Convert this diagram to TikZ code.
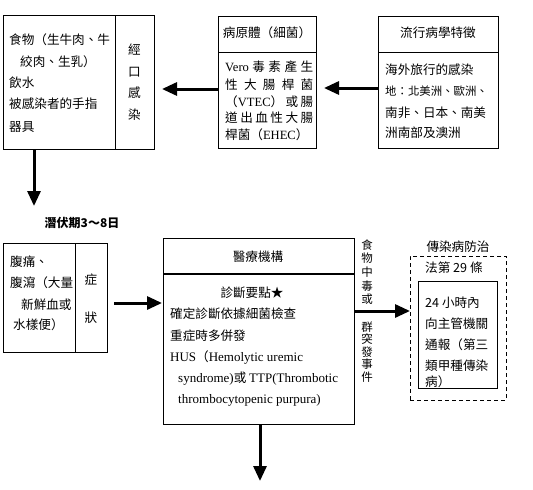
\documentclass[tikz,border=0pt]{standalone}
\usepackage{fontspec}
\setmainfont{Noto Sans CJK TC}
\newfontfamily\lat{Liberation Serif}
\usetikzlibrary{arrows.meta}
\begin{document}
\begin{tikzpicture}[x=1pt,y=-1pt,
 box/.style={draw,line width=0.8pt,inner sep=0pt,outer sep=0pt,anchor=north west},
 txt/.style={inner sep=0pt,anchor=west,font=\fontsize{12.6}{15}\selectfont},
 ctxt/.style={inner sep=0pt,font=\fontsize{12.6}{15}\selectfont},
 vtxt/.style={inner sep=0pt,align=center,font=\fontsize{11.5}{13}\selectfont},
 arr/.style={line width=3pt,-{Triangle[length=15pt,width=13pt]}},
]
\useasboundingbox (0,0) rectangle (533,490);

% Box 1
\node[box,minimum width=151pt,minimum height=134pt] (b1) at (3,15) {};
\draw[line width=0.8pt] ([xshift=112pt]b1.north west) -- ([xshift=112pt]b1.south west);
\node[txt] (b1a) at (9,40) {食物（生牛肉、牛};
\node[txt] (b1b) at (20,62) {絞肉、生乳）};
\node[txt] (b1c) at (9,83) {飲水};
\node[txt] (b1d) at (9,104) {被感染者的手指};
\node[txt] (b1e) at (9,127) {器具};
\node[ctxt] (b1v1) at (134.5,50) {經};
\node[ctxt] (b1v2) at (134.5,72) {口};
\node[ctxt] (b1v3) at (134.5,93) {感};
\node[ctxt] (b1v4) at (134.5,115) {染};

% Box 2
\node[box,minimum width=98pt,minimum height=132pt] (b2) at (218,16) {};
\draw[line width=0.8pt] ([yshift=-36pt]b2.north west) -- ([yshift=-36pt]b2.north east);
\node[ctxt] (b2h) at (267,33) {病原體（細菌）};
\node[txt] (b2a) at (225,67) {\makebox[88pt][s]{{\lat Vero}\hfill 毒\hfill 素\hfill 產\hfill 生}};
\node[txt] (b2b) at (225,85) {\makebox[88pt][s]{性\hfill 大\hfill 腸\hfill 桿\hfill 菌}};
\node[txt] (b2c) at (225,102) {\makebox[88pt][s]{（{\lat VTEC}）\hfill 或\hfill 腸}};
\node[txt] (b2d) at (225,118) {\makebox[88pt][s]{道\hfill 出\hfill 血\hfill 性\hfill 大\hfill 腸}};
\node[txt] (b2e) at (225,135) {桿菌（{\lat EHEC}）};

% Box 3
\node[box,minimum width=120pt,minimum height=132pt] (b3) at (378,16) {};
\draw[line width=0.8pt] ([yshift=-36pt]b3.north west) -- ([yshift=-36pt]b3.north east);
\node[ctxt] (b3h) at (438,33) {流行病學特徵};
\node[txt] (b3a) at (385,70) {海外旅行的感染};
\node[txt,font=\fontsize{11.4}{14}\selectfont] (b3b) at (385,91) {地：北美洲、歐洲、};
\node[txt] (b3c) at (385,113) {南非、日本、南美};
\node[txt] (b3d) at (385,133) {洲南部及澳洲};

% latency
\coordinate (c1) at (34,206);
\node[inner sep=0pt,font=\bfseries\fontsize{12}{14}\selectfont] (latn) at (82,223) {潛伏期3～8日};

% Symptom box
\node[box,minimum width=104pt,minimum height=109pt] (sym) at (3,243) {};
\draw[line width=0.8pt] ([xshift=72pt]sym.north west) -- ([xshift=72pt]sym.south west);
\node[txt] (s1) at (10,262) {腹痛、};
\node[txt] (s2) at (10,283) {腹瀉（大量};
\node[txt] (s3) at (21,305) {新鮮血或};
\node[txt] (s4) at (13,325) {水樣便）};
\node[ctxt] (sv1) at (91,280) {症};
\node[ctxt] (sv2) at (91,318) {狀};

% Medical box
\node[box,minimum width=191pt,minimum height=186pt] (med) at (163,238) {};
\draw[line width=2pt] ([yshift=-36pt]med.north west) -- ([yshift=-36pt]med.north east);
\node[ctxt] (mh) at (258,257) {醫療機構};
\node[ctxt] (m1) at (252,293) {診斷要點★};
\node[txt] (m2) at (170,314) {確定診斷依據細菌檢查};
\node[txt] (m3) at (170,336) {重症時多併發};
\node[txt] (m4) at (170,358) {{\lat\fontsize{13}{15}\selectfont HUS}（{\lat\fontsize{13}{15}\selectfont Hemolytic uremic}};
\node[txt] (m5) at (178,379) {{\lat\fontsize{13}{15}\selectfont syndrome)}或 {\lat\fontsize{13}{15}\selectfont TTP(Thrombotic}};
\node[txt] (m6) at (178,400) {{\lat\fontsize{13}{15}\selectfont thrombocytopenic purpura)}};
\coordinate (c2) at (260,481);

% side vertical text
\node[vtxt,font=\fontsize{11.5}{13.7}\selectfont] (sideA) at (367,272) {食\\物\\中\\毒\\或};
\node[vtxt,font=\fontsize{11.5}{12.5}\selectfont] (sideB) at (367,352) {群\\突\\發\\事\\件};

% Dashed box
\node[box,dashed,dash pattern=on 4pt off 3pt,minimum width=96pt,minimum height=144pt] (law) at (410,256) {};
\node[ctxt] (lawt) at (458,247) {傳染病防治};
\node[txt] (lawt2) at (425,268) {法第 29 條};
\node[box,minimum width=79pt,minimum height=107pt] (rep) at (418,281) {};
\node[txt] (r1) at (425,303) {24 小時內};
\node[txt] (r2) at (425,324) {向主管機關};
\node[txt] (r3) at (425,345) {通報（第三};
\node[txt] (r4) at (425,366) {類甲種傳染};
\node[txt] (r5) at (425,382) {病）};

% Arrows
\draw[arr] ([yshift=-7pt]b2.west) -- ([xshift=8pt,yshift=-7pt]b1.east);
\draw[arr] ([yshift=-6pt]b3.west) -- ([xshift=8pt,yshift=-6pt]b2.east);
\draw[arr] (b1.south west -| c1) -- (c1);
\draw[arr] ([xshift=7pt,yshift=-5.5pt]sym.east) -- ([xshift=-1pt,yshift=28pt]med.west);
\draw[arr] ([yshift=20pt]med.east) -- ([yshift=17pt]law.west);
\draw[arr] (med.south -| c2) -- (c2);
\end{tikzpicture}
\end{document}
